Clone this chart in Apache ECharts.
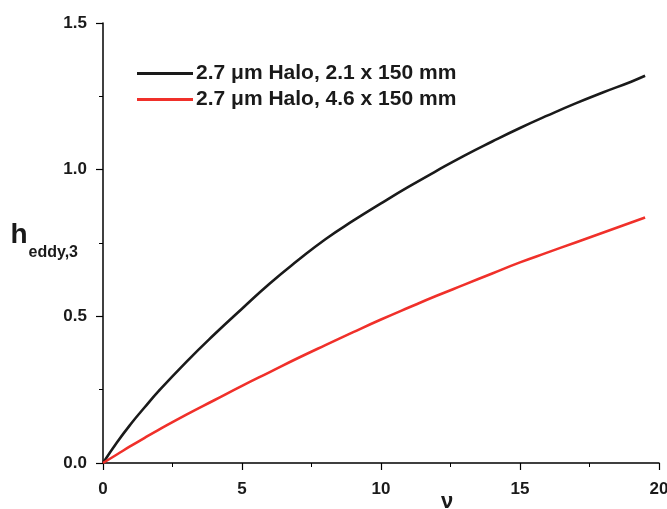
<!DOCTYPE html>
<html>
<head>
<meta charset="utf-8">
<script src="https://cdn.jsdelivr.net/npm/echarts@6/dist/echarts.min.js"></script>
<style>
  html, body { margin: 0; padding: 0; background: #fff; }
  #main { width: 667px; height: 509px; }
</style>
</head>
<body>
<div id="main"></div>
<script>
// nu values (x)
const nuValues = [0, 0.5, 1, 1.5, 2, 3, 4, 5, 6, 7, 8, 9, 10, 11, 12, 13, 14, 15, 16, 17, 18, 19, 19.5];
// h_eddy,3 for 2.1 x 150 mm
const halo21 = [0, 0.07, 0.133, 0.19, 0.245, 0.345, 0.438, 0.526, 0.612, 0.69, 0.763, 0.826, 0.885, 0.942, 0.996, 1.048, 1.096, 1.142, 1.185, 1.226, 1.264, 1.30, 1.32];
// h_eddy,3 for 4.6 x 150 mm
const halo46 = [0, 0.029, 0.058, 0.086, 0.113, 0.165, 0.214, 0.263, 0.31, 0.357, 0.402, 0.446, 0.489, 0.53, 0.57, 0.608, 0.646, 0.684, 0.718, 0.752, 0.786, 0.82, 0.837];
const seriesNames = ['2.7 \u03bcm Halo, 2.1 x 150 mm', '2.7 \u03bcm Halo, 4.6 x 150 mm'];

const font = 'Liberation Sans, Arial, sans-serif';
const chart = echarts.init(document.getElementById('main'));

function pairs(ys) {
  return nuValues.map((x, i) => [x, ys[i]]);
}

// 坐标轴公共样式
const axisCommon = {
  axisLine: { show: true, lineStyle: { color: '#000', width: 1.5 } },
  axisTick: { show: true, inside: false, length: 7, lineStyle: { color: '#000', width: 1.2 } },
  minorTick: { show: true, splitNumber: 2, length: 4, lineStyle: { color: '#000', width: 1 } },
  splitLine: { show: false },
  axisLabel: { color: '#1a1a1a', fontFamily: font, fontWeight: 'bold', fontSize: 17 }
};

const option = {
  backgroundColor: '#fff',
  animation: false,
  grid: { left: 103, right: 8, top: 23, bottom: 46, containLabel: false, outerBoundsMode: 'none' },
  legend: {
    orient: 'vertical',
    left: 137,
    top: 63,
    padding: 0,
    itemWidth: 56,
    itemHeight: 3,
    itemGap: 5,
    icon: 'rect',
    textStyle: { color: '#1a1a1a', fontFamily: font, fontWeight: 'bold', fontSize: 21, padding: [0, 0, 0, -2] },
    data: seriesNames
  },
  xAxis: Object.assign({}, axisCommon, {
    type: 'value',
    min: 0,
    max: 20,
    interval: 5,
    name: '\u03bd',
    nameLocation: 'middle',
    nameGap: 28,
    nameMoveOverlap: false,
    nameTextStyle: { color: '#1a1a1a', fontFamily: font, fontWeight: 'bold', fontSize: 22, padding: [0, 0, 0, 132] },
    axisLabel: Object.assign({}, axisCommon.axisLabel, { margin: 18 })
  }),
  yAxis: Object.assign({}, axisCommon, {
    type: 'value',
    min: 0,
    max: 1.5,
    interval: 0.5,
    name: '{h|h}{s|eddy,3}',
    nameLocation: 'middle',
    nameRotate: 0,
    nameGap: 25,
    nameMoveOverlap: false,
    nameTextStyle: {
      rich: {
        h: { fontFamily: font, fontWeight: 'bold', fontSize: 28, color: '#1a1a1a', verticalAlign: 'bottom', padding: [0, 0, 15, 0] },
        s: { fontFamily: font, fontWeight: 'bold', fontSize: 16, color: '#1a1a1a', verticalAlign: 'bottom', padding: [0, 0, 4, 1] }
      }
    },
    axisLabel: Object.assign({}, axisCommon.axisLabel, {
      margin: 16,
      formatter: v => v.toFixed(1)
    })
  }),
  series: [
    {
      name: seriesNames[0],
      type: 'line',
      smooth: true,
      symbol: 'none',
      data: pairs(halo21),
      itemStyle: { color: '#1a1a1a' },
      lineStyle: { color: '#1a1a1a', width: 2.6 }
    },
    {
      name: seriesNames[1],
      type: 'line',
      smooth: true,
      symbol: 'none',
      data: pairs(halo46),
      itemStyle: { color: '#f0302a' },
      lineStyle: { color: '#f0302a', width: 2.6 }
    }
  ]
};

chart.setOption(option);
</script>
</body>
</html>
